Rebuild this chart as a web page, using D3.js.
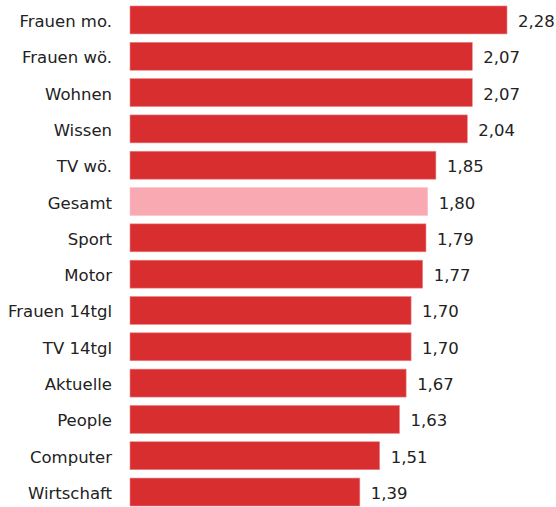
<!DOCTYPE html>
<html><head><meta charset="utf-8">
<script src="https://cdn.jsdelivr.net/npm/d3@7"></script>
<style>body{margin:0;background:#fff}svg{display:block}</style>
</head><body>
<script>
const categories = ["Frauen mo.","Frauen wö.","Wohnen","Wissen","TV wö.","Gesamt","Sport","Motor","Frauen 14tgl","TV 14tgl","Aktuelle","People","Computer","Wirtschaft"];
const values = [2.28,2.07,2.07,2.04,1.85,1.80,1.79,1.77,1.70,1.70,1.67,1.63,1.51,1.39];
const highlight = ["Gesamt"];

const W = 556, H = 507;
const svg = d3.select("body").append("svg").attr("width", W).attr("height", H);
const data = categories.map((c,i)=>({c, v: values[i]}));

const x = d3.scaleLinear().domain([0, 2.28]).range([130, 507]);
const y = d3.scaleBand().domain(categories).range([6 - 4.19, 506 + 4.19]).paddingInner(0.23).paddingOuter(0.115);

const fmt = v => d3.format(".2f")(v).replace(".", ",");

svg.selectAll("rect.bar").data(data).join("rect")
  .attr("class","bar")
  .attr("x", x(0))
  .attr("y", d => y(d.c))
  .attr("width", d => x(d.v) - x(0))
  .attr("height", y.bandwidth())
  .attr("fill", d => highlight.includes(d.c) ? "#f8a9b1" : "#d82e30")
  .attr("stroke", d => highlight.includes(d.c) ? "#fbc4c9" : "#e8898a")
  .attr("stroke-width", 0.6);

const font = "DejaVu Sans, Verdana, sans-serif";
const fs = 16.5;
svg.selectAll("text.cat").data(data).join("text")
  .attr("class","cat")
  .attr("x", 112)
  .attr("y", d => y(d.c) + y.bandwidth()/2 + 7)
  .attr("text-anchor","end")
  .attr("font-family", font)
  .attr("font-size", fs)
  .attr("fill", "#222")
  .text(d => d.c);

svg.selectAll("text.val").data(data).join("text")
  .attr("class","val")
  .attr("x", d => x(d.v) + 11)
  .attr("y", d => y(d.c) + y.bandwidth()/2 + 7)
  .attr("font-family", font)
  .attr("font-size", fs)
  .attr("fill", "#222")
  .text(d => fmt(d.v));
</script>
</body></html>
